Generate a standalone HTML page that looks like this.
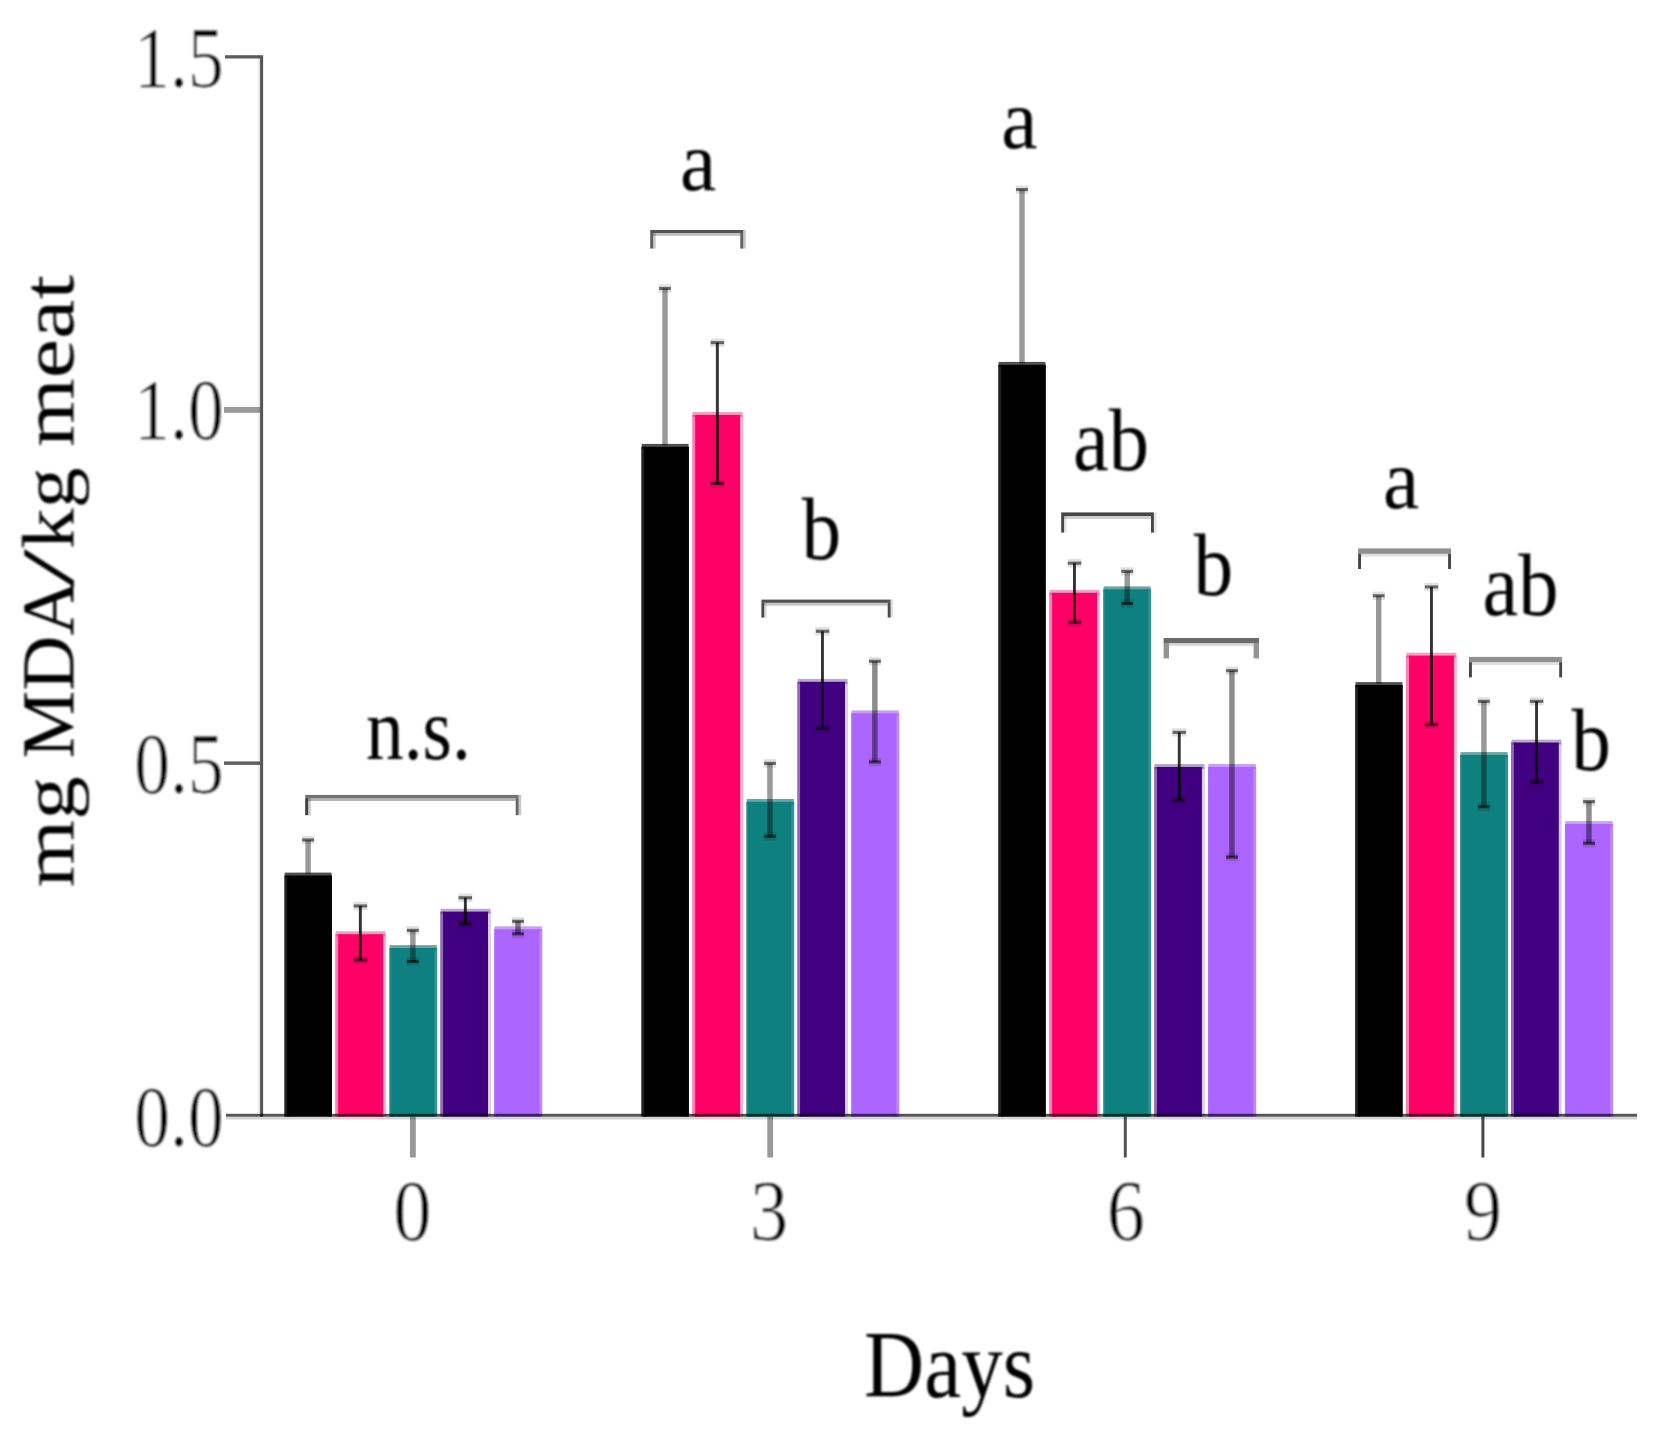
<!DOCTYPE html>
<html lang="en"><head><meta charset="utf-8"><title>TBARS chart</title>
<style>html,body{margin:0;padding:0;background:#fff}body{width:1661px;height:1445px;overflow:hidden}svg{display:block}text{font-family:"Liberation Serif",serif;fill:#000}.thin{stroke:#fff;stroke-width:0.6px;vector-effect:non-scaling-stroke}</style>
</head><body>
<svg width="1661" height="1445" viewBox="0 0 1661 1445">
<defs><filter id="soft" x="-5%" y="-5%" width="110%" height="110%"><feGaussianBlur stdDeviation="0.80"/></filter><filter id="soft2" x="-2%" y="-2%" width="104%" height="104%"><feGaussianBlur stdDeviation="0.5"/></filter></defs>
<rect x="0.0" y="0.0" width="1661.0" height="1445.0" fill="#fff"/>
<g id="chart" filter="url(#soft2)">
<g id="bars">
<rect x="284.3" y="875.5" width="4.9" height="241.1" fill="#000000" opacity="0.87"/>
<rect x="328.5" y="875.5" width="3.5" height="241.1" fill="#000000" opacity="0.96"/>
<rect x="284.7" y="872.6" width="46.9" height="5.0" fill="#000000" opacity="0.69"/>
<rect x="287.2" y="875.5" width="43.3" height="241.1" fill="#000000"/>
<rect x="335.2" y="934.2" width="5.0" height="182.4" fill="#FF0066" opacity="0.50"/>
<rect x="381.1" y="934.2" width="4.9" height="182.4" fill="#FF0066" opacity="0.30"/>
<rect x="335.6" y="931.3" width="50.0" height="5.0" fill="#FF0066" opacity="0.40"/>
<rect x="338.2" y="934.2" width="44.9" height="182.4" fill="#FF0066"/>
<rect x="389.3" y="948.0" width="4.0" height="168.6" fill="#11807F" opacity="0.92"/>
<rect x="432.3" y="948.0" width="4.9" height="168.6" fill="#11807F" opacity="0.86"/>
<rect x="389.7" y="945.1" width="47.1" height="5.0" fill="#11807F" opacity="0.68"/>
<rect x="391.3" y="948.0" width="43.0" height="168.6" fill="#11807F"/>
<rect x="440.2" y="911.6" width="4.9" height="205.0" fill="#40007F" opacity="0.58"/>
<rect x="486.0" y="911.6" width="4.9" height="205.0" fill="#40007F" opacity="0.20"/>
<rect x="440.6" y="908.7" width="49.9" height="5.0" fill="#40007F" opacity="0.35"/>
<rect x="443.1" y="911.6" width="44.9" height="205.0" fill="#40007F"/>
<rect x="494.1" y="929.2" width="3.5" height="187.4" fill="#AC66FF" opacity="0.95"/>
<rect x="537.4" y="929.2" width="4.9" height="187.4" fill="#AC66FF" opacity="0.78"/>
<rect x="494.5" y="926.3" width="47.4" height="5.0" fill="#AC66FF" opacity="0.64"/>
<rect x="495.6" y="929.2" width="43.8" height="187.4" fill="#AC66FF"/>
<rect x="641.3" y="446.8" width="4.9" height="669.8" fill="#000000" opacity="0.87"/>
<rect x="685.5" y="446.8" width="3.5" height="669.8" fill="#000000" opacity="0.96"/>
<rect x="641.7" y="443.9" width="46.9" height="5.0" fill="#000000" opacity="0.69"/>
<rect x="644.2" y="446.8" width="43.3" height="669.8" fill="#000000"/>
<rect x="692.2" y="414.9" width="5.0" height="701.7" fill="#FF0066" opacity="0.50"/>
<rect x="738.1" y="414.9" width="4.9" height="701.7" fill="#FF0066" opacity="0.30"/>
<rect x="692.6" y="412.0" width="50.0" height="5.0" fill="#FF0066" opacity="0.40"/>
<rect x="695.2" y="414.9" width="44.9" height="701.7" fill="#FF0066"/>
<rect x="746.3" y="801.9" width="4.0" height="314.7" fill="#11807F" opacity="0.92"/>
<rect x="789.3" y="801.9" width="4.9" height="314.7" fill="#11807F" opacity="0.86"/>
<rect x="746.7" y="799.0" width="47.1" height="5.0" fill="#11807F" opacity="0.68"/>
<rect x="748.3" y="801.9" width="43.0" height="314.7" fill="#11807F"/>
<rect x="797.2" y="681.8" width="4.9" height="434.8" fill="#40007F" opacity="0.58"/>
<rect x="843.0" y="681.8" width="4.9" height="434.8" fill="#40007F" opacity="0.20"/>
<rect x="797.6" y="678.9" width="49.9" height="5.0" fill="#40007F" opacity="0.35"/>
<rect x="800.1" y="681.8" width="44.9" height="434.8" fill="#40007F"/>
<rect x="851.1" y="713.3" width="3.5" height="403.3" fill="#AC66FF" opacity="0.95"/>
<rect x="894.4" y="713.3" width="4.9" height="403.3" fill="#AC66FF" opacity="0.78"/>
<rect x="851.5" y="710.4" width="47.4" height="5.0" fill="#AC66FF" opacity="0.64"/>
<rect x="852.6" y="713.3" width="43.8" height="403.3" fill="#AC66FF"/>
<rect x="998.2" y="364.8" width="4.9" height="751.8" fill="#000000" opacity="0.87"/>
<rect x="1042.4" y="364.8" width="3.5" height="751.8" fill="#000000" opacity="0.96"/>
<rect x="998.6" y="361.9" width="46.9" height="5.0" fill="#000000" opacity="0.69"/>
<rect x="1001.1" y="364.8" width="43.3" height="751.8" fill="#000000"/>
<rect x="1049.1" y="592.8" width="5.0" height="523.8" fill="#FF0066" opacity="0.50"/>
<rect x="1095.0" y="592.8" width="4.9" height="523.8" fill="#FF0066" opacity="0.30"/>
<rect x="1049.5" y="589.9" width="50.0" height="5.0" fill="#FF0066" opacity="0.40"/>
<rect x="1052.1" y="592.8" width="44.9" height="523.8" fill="#FF0066"/>
<rect x="1103.2" y="589.3" width="4.0" height="527.3" fill="#11807F" opacity="0.92"/>
<rect x="1146.2" y="589.3" width="4.9" height="527.3" fill="#11807F" opacity="0.86"/>
<rect x="1103.6" y="586.4" width="47.1" height="5.0" fill="#11807F" opacity="0.68"/>
<rect x="1105.2" y="589.3" width="43.0" height="527.3" fill="#11807F"/>
<rect x="1154.1" y="766.9" width="4.9" height="349.7" fill="#40007F" opacity="0.58"/>
<rect x="1199.9" y="766.9" width="4.9" height="349.7" fill="#40007F" opacity="0.20"/>
<rect x="1154.5" y="764.0" width="49.9" height="5.0" fill="#40007F" opacity="0.35"/>
<rect x="1157.0" y="766.9" width="44.9" height="349.7" fill="#40007F"/>
<rect x="1208.0" y="766.9" width="3.5" height="349.7" fill="#AC66FF" opacity="0.95"/>
<rect x="1251.3" y="766.9" width="4.9" height="349.7" fill="#AC66FF" opacity="0.78"/>
<rect x="1208.4" y="764.0" width="47.4" height="5.0" fill="#AC66FF" opacity="0.64"/>
<rect x="1209.5" y="766.9" width="43.8" height="349.7" fill="#AC66FF"/>
<rect x="1355.1" y="685.0" width="4.9" height="431.6" fill="#000000" opacity="0.87"/>
<rect x="1399.3" y="685.0" width="3.5" height="431.6" fill="#000000" opacity="0.96"/>
<rect x="1355.5" y="682.1" width="46.9" height="5.0" fill="#000000" opacity="0.69"/>
<rect x="1358.0" y="685.0" width="43.3" height="431.6" fill="#000000"/>
<rect x="1406.0" y="655.6" width="5.0" height="461.0" fill="#FF0066" opacity="0.50"/>
<rect x="1451.9" y="655.6" width="4.9" height="461.0" fill="#FF0066" opacity="0.30"/>
<rect x="1406.4" y="652.7" width="50.0" height="5.0" fill="#FF0066" opacity="0.40"/>
<rect x="1409.0" y="655.6" width="44.9" height="461.0" fill="#FF0066"/>
<rect x="1460.1" y="755.0" width="4.0" height="361.6" fill="#11807F" opacity="0.92"/>
<rect x="1503.1" y="755.0" width="4.9" height="361.6" fill="#11807F" opacity="0.86"/>
<rect x="1460.5" y="752.1" width="47.1" height="5.0" fill="#11807F" opacity="0.68"/>
<rect x="1462.1" y="755.0" width="43.0" height="361.6" fill="#11807F"/>
<rect x="1511.0" y="742.5" width="4.9" height="374.1" fill="#40007F" opacity="0.58"/>
<rect x="1556.8" y="742.5" width="4.9" height="374.1" fill="#40007F" opacity="0.20"/>
<rect x="1511.4" y="739.6" width="49.9" height="5.0" fill="#40007F" opacity="0.35"/>
<rect x="1513.9" y="742.5" width="44.9" height="374.1" fill="#40007F"/>
<rect x="1564.9" y="824.0" width="3.5" height="292.6" fill="#AC66FF" opacity="0.95"/>
<rect x="1608.2" y="824.0" width="4.9" height="292.6" fill="#AC66FF" opacity="0.78"/>
<rect x="1565.3" y="821.1" width="47.4" height="5.0" fill="#AC66FF" opacity="0.64"/>
<rect x="1566.4" y="824.0" width="43.8" height="292.6" fill="#AC66FF"/>
</g>
<g id="axes" fill="#000">
<rect x="226" y="1113.8" width="1411" height="2.9" opacity="0.67"/>
<rect x="226" y="1116.7" width="1411" height="2.8" opacity="0.17"/>
<rect x="260.1" y="55.2" width="3.0" height="1061.5" opacity="0.67"/>
<rect x="258.2" y="55.2" width="1.9" height="1058.6" opacity="0.10"/>
<rect x="225" y="55.2" width="35.1" height="3.3" opacity="0.64"/>
<rect x="224" y="407" width="36.1" height="5.8" opacity="0.40"/>
<rect x="224" y="761.4" width="36.1" height="3.5" opacity="0.62"/>
<rect x="410" y="1116.7" width="5.8" height="40.8" opacity="0.40"/>
<rect x="767.3" y="1116.7" width="5.8" height="40.8" opacity="0.40"/>
<rect x="1123.8" y="1116.7" width="3" height="40.8" opacity="0.68"/>
<rect x="1481.4" y="1116.7" width="3" height="40.8" opacity="0.72"/>
</g>
<g id="errors" fill="#000">
<rect x="305.4" y="840.0" width="5.4" height="34.2" opacity="0.40"/>
<rect x="302.2" y="838.4" width="11.8" height="3.1" opacity="0.55"/>
<rect x="301.8" y="835.8" width="12.6" height="8.4" opacity="0.12"/>
<rect x="358.9" y="906.0" width="2.9" height="54.0" opacity="0.80"/>
<rect x="353.7" y="904.4" width="13.4" height="3.1" opacity="0.55"/>
<rect x="353.3" y="901.8" width="14.2" height="8.4" opacity="0.12"/>
<rect x="353.7" y="958.4" width="13.4" height="3.1" opacity="0.55"/>
<rect x="353.3" y="955.8" width="14.2" height="8.4" opacity="0.12"/>
<rect x="410.1" y="930.4" width="5.5" height="31.2" opacity="0.40"/>
<rect x="406.9" y="928.8" width="11.8" height="3.1" opacity="0.55"/>
<rect x="406.5" y="926.2" width="12.6" height="8.4" opacity="0.12"/>
<rect x="406.9" y="960.0" width="11.8" height="3.1" opacity="0.55"/>
<rect x="406.5" y="957.4" width="12.6" height="8.4" opacity="0.12"/>
<rect x="463.9" y="897.8" width="2.9" height="26.1" opacity="0.80"/>
<rect x="458.6" y="896.2" width="13.4" height="3.1" opacity="0.55"/>
<rect x="458.2" y="893.6" width="14.2" height="8.4" opacity="0.12"/>
<rect x="458.6" y="922.3" width="13.4" height="3.1" opacity="0.55"/>
<rect x="458.2" y="919.7" width="14.2" height="8.4" opacity="0.12"/>
<rect x="515.2" y="921.3" width="5.5" height="12.6" opacity="0.45"/>
<rect x="512.1" y="919.7" width="11.8" height="3.1" opacity="0.55"/>
<rect x="511.7" y="917.1" width="12.6" height="8.4" opacity="0.12"/>
<rect x="512.1" y="932.3" width="11.8" height="3.1" opacity="0.55"/>
<rect x="511.7" y="929.7" width="12.6" height="8.4" opacity="0.12"/>
<rect x="662.3" y="288.5" width="5.4" height="157.0" opacity="0.40"/>
<rect x="659.1" y="286.9" width="11.8" height="3.1" opacity="0.55"/>
<rect x="658.7" y="284.3" width="12.6" height="8.4" opacity="0.12"/>
<rect x="715.9" y="342.7" width="2.9" height="140.8" opacity="0.80"/>
<rect x="710.7" y="341.1" width="13.4" height="3.1" opacity="0.55"/>
<rect x="710.3" y="338.5" width="14.2" height="8.4" opacity="0.12"/>
<rect x="710.7" y="481.9" width="13.4" height="3.1" opacity="0.55"/>
<rect x="710.3" y="479.3" width="14.2" height="8.4" opacity="0.12"/>
<rect x="767.2" y="763.4" width="5.5" height="73.1" opacity="0.40"/>
<rect x="764.1" y="761.8" width="11.8" height="3.1" opacity="0.55"/>
<rect x="763.7" y="759.2" width="12.6" height="8.4" opacity="0.12"/>
<rect x="764.1" y="834.9" width="11.8" height="3.1" opacity="0.55"/>
<rect x="763.7" y="832.3" width="12.6" height="8.4" opacity="0.12"/>
<rect x="821.0" y="631.3" width="2.9" height="97.1" opacity="0.80"/>
<rect x="815.8" y="629.7" width="13.4" height="3.1" opacity="0.55"/>
<rect x="815.4" y="627.1" width="14.2" height="8.4" opacity="0.12"/>
<rect x="815.8" y="726.8" width="13.4" height="3.1" opacity="0.55"/>
<rect x="815.4" y="724.2" width="14.2" height="8.4" opacity="0.12"/>
<rect x="872.1" y="661.3" width="5.5" height="100.7" opacity="0.45"/>
<rect x="869.0" y="659.7" width="11.8" height="3.1" opacity="0.55"/>
<rect x="868.6" y="657.1" width="12.6" height="8.4" opacity="0.12"/>
<rect x="869.0" y="760.4" width="11.8" height="3.1" opacity="0.55"/>
<rect x="868.6" y="757.8" width="12.6" height="8.4" opacity="0.12"/>
<rect x="1019.3" y="189.6" width="5.4" height="173.9" opacity="0.40"/>
<rect x="1016.1" y="188.0" width="11.8" height="3.1" opacity="0.55"/>
<rect x="1015.7" y="185.4" width="12.6" height="8.4" opacity="0.12"/>
<rect x="1073.0" y="563.2" width="2.9" height="59.2" opacity="0.80"/>
<rect x="1067.8" y="561.6" width="13.4" height="3.1" opacity="0.55"/>
<rect x="1067.4" y="559.0" width="14.2" height="8.4" opacity="0.12"/>
<rect x="1067.8" y="620.8" width="13.4" height="3.1" opacity="0.55"/>
<rect x="1067.4" y="618.2" width="14.2" height="8.4" opacity="0.12"/>
<rect x="1124.5" y="571.4" width="5.5" height="32.2" opacity="0.40"/>
<rect x="1121.3" y="569.8" width="11.8" height="3.1" opacity="0.55"/>
<rect x="1120.9" y="567.2" width="12.6" height="8.4" opacity="0.12"/>
<rect x="1121.3" y="602.0" width="11.8" height="3.1" opacity="0.55"/>
<rect x="1120.9" y="599.4" width="12.6" height="8.4" opacity="0.12"/>
<rect x="1177.8" y="732.4" width="2.9" height="67.6" opacity="0.80"/>
<rect x="1172.5" y="730.8" width="13.4" height="3.1" opacity="0.55"/>
<rect x="1172.1" y="728.2" width="14.2" height="8.4" opacity="0.12"/>
<rect x="1172.5" y="798.4" width="13.4" height="3.1" opacity="0.55"/>
<rect x="1172.1" y="795.8" width="14.2" height="8.4" opacity="0.12"/>
<rect x="1229.2" y="670.7" width="5.5" height="186.5" opacity="0.45"/>
<rect x="1226.1" y="669.1" width="11.8" height="3.1" opacity="0.55"/>
<rect x="1225.7" y="666.5" width="12.6" height="8.4" opacity="0.12"/>
<rect x="1226.1" y="855.6" width="11.8" height="3.1" opacity="0.55"/>
<rect x="1225.7" y="853.0" width="12.6" height="8.4" opacity="0.12"/>
<rect x="1376.0" y="595.8" width="5.4" height="87.9" opacity="0.40"/>
<rect x="1372.8" y="594.2" width="11.8" height="3.1" opacity="0.55"/>
<rect x="1372.4" y="591.6" width="12.6" height="8.4" opacity="0.12"/>
<rect x="1430.0" y="587.0" width="2.9" height="137.6" opacity="0.80"/>
<rect x="1424.8" y="585.4" width="13.4" height="3.1" opacity="0.55"/>
<rect x="1424.4" y="582.8" width="14.2" height="8.4" opacity="0.12"/>
<rect x="1424.8" y="723.0" width="13.4" height="3.1" opacity="0.55"/>
<rect x="1424.4" y="720.4" width="14.2" height="8.4" opacity="0.12"/>
<rect x="1481.2" y="701.4" width="5.5" height="105.4" opacity="0.40"/>
<rect x="1478.0" y="699.8" width="11.8" height="3.1" opacity="0.55"/>
<rect x="1477.6" y="697.2" width="12.6" height="8.4" opacity="0.12"/>
<rect x="1478.0" y="805.2" width="11.8" height="3.1" opacity="0.55"/>
<rect x="1477.6" y="802.6" width="12.6" height="8.4" opacity="0.12"/>
<rect x="1535.1" y="701.4" width="2.9" height="80.8" opacity="0.80"/>
<rect x="1529.9" y="699.8" width="13.4" height="3.1" opacity="0.55"/>
<rect x="1529.5" y="697.2" width="14.2" height="8.4" opacity="0.12"/>
<rect x="1529.9" y="780.6" width="13.4" height="3.1" opacity="0.55"/>
<rect x="1529.5" y="778.0" width="14.2" height="8.4" opacity="0.12"/>
<rect x="1586.2" y="801.7" width="5.5" height="41.6" opacity="0.45"/>
<rect x="1583.1" y="800.1" width="11.8" height="3.1" opacity="0.55"/>
<rect x="1582.7" y="797.5" width="12.6" height="8.4" opacity="0.12"/>
<rect x="1583.1" y="841.7" width="11.8" height="3.1" opacity="0.55"/>
<rect x="1582.7" y="839.1" width="12.6" height="8.4" opacity="0.12"/>
</g>
<g id="brackets" fill="#000">
<rect x="305.2" y="794.9" width="213.4" height="3.2" opacity="0.55"/>
<rect x="308.1" y="798.1" width="207.6" height="2.9" opacity="0.30"/>
<rect x="305.2" y="798.1" width="2.9" height="17.1" opacity="0.75"/>
<rect x="515.7" y="798.1" width="2.9" height="17.1" opacity="0.60"/>
<rect x="308.1" y="798.1" width="2.6" height="17.1" opacity="0.22"/>
<rect x="518.6" y="794.9" width="2.6" height="20.3" opacity="0.22"/>
<rect x="650.2" y="230.0" width="93.0" height="3.0" opacity="0.67"/>
<rect x="653.1" y="233.0" width="87.2" height="2.9" opacity="0.25"/>
<rect x="650.2" y="233.0" width="2.9" height="15.6" opacity="0.62"/>
<rect x="740.3" y="233.0" width="2.9" height="15.6" opacity="0.62"/>
<rect x="653.1" y="233.0" width="2.6" height="15.6" opacity="0.22"/>
<rect x="743.2" y="230.0" width="2.6" height="18.6" opacity="0.22"/>
<rect x="761.4" y="599.6" width="129.2" height="3.2" opacity="0.68"/>
<rect x="764.3" y="602.8" width="123.4" height="2.9" opacity="0.22"/>
<rect x="761.4" y="602.8" width="2.9" height="14.8" opacity="0.70"/>
<rect x="887.7" y="602.8" width="2.9" height="14.8" opacity="0.70"/>
<rect x="764.3" y="602.8" width="2.6" height="14.8" opacity="0.12"/>
<rect x="890.6" y="599.6" width="2.6" height="18.0" opacity="0.12"/>
<rect x="1061.2" y="512.4" width="92.7" height="3.6" opacity="0.72"/>
<rect x="1064.1" y="516.0" width="86.9" height="2.9" opacity="0.20"/>
<rect x="1061.2" y="516.0" width="2.9" height="16.6" opacity="0.72"/>
<rect x="1151.0" y="516.0" width="2.9" height="16.6" opacity="0.72"/>
<rect x="1064.1" y="516.0" width="2.6" height="16.6" opacity="0.10"/>
<rect x="1153.9" y="512.4" width="2.6" height="20.2" opacity="0.10"/>
<rect x="1163.6" y="638.0" width="95.4" height="5.2" opacity="0.58"/>
<rect x="1169.0" y="643.2" width="84.6" height="2.9" opacity="0.14"/>
<rect x="1163.6" y="643.2" width="5.4" height="15.2" opacity="0.42"/>
<rect x="1253.6" y="643.2" width="5.4" height="15.2" opacity="0.42"/>
<rect x="1358.1" y="548.4" width="92.9" height="5.4" opacity="0.44"/>
<rect x="1361.0" y="553.8" width="87.1" height="2.9" opacity="0.12"/>
<rect x="1358.1" y="553.8" width="2.9" height="15.2" opacity="0.73"/>
<rect x="1448.1" y="553.8" width="2.9" height="15.2" opacity="0.73"/>
<rect x="1469.0" y="656.9" width="93.1" height="5.3" opacity="0.44"/>
<rect x="1471.9" y="662.2" width="87.3" height="2.9" opacity="0.12"/>
<rect x="1469.0" y="662.2" width="2.9" height="15.2" opacity="0.73"/>
<rect x="1559.2" y="662.2" width="2.9" height="15.2" opacity="0.73"/>
</g>
</g>
<g id="labels" filter="url(#soft)">
<text transform="translate(366.0 758.6) scale(0.857 1)" font-size="88">n.s.</text>
<text transform="translate(680.0 190.4) scale(0.960 1)" font-size="85">a</text>
<text transform="translate(801.5 559.4) scale(0.900 1)" font-size="88">b</text>
<text transform="translate(1001.3 148.2) scale(0.960 1)" font-size="85">a</text>
<text transform="translate(1073.0 469.7) scale(0.915 1)" font-size="88">ab</text>
<text transform="translate(1193.6 594.7) scale(0.900 1)" font-size="88">b</text>
<text transform="translate(1383.0 508.2) scale(0.960 1)" font-size="85">a</text>
<text transform="translate(1482.4 615.0) scale(0.915 1)" font-size="88">ab</text>
<text transform="translate(1571.3 770.2) scale(0.900 1)" font-size="88">b</text>
<text transform="translate(134.3 87.2) scale(0.822 1)" font-size="87" class="thin">1.5</text>
<text transform="translate(134.3 439.2) scale(0.822 1)" font-size="87" class="thin">1.0</text>
<text transform="translate(134.3 792.8) scale(0.822 1)" font-size="87" class="thin">0.5</text>
<text transform="translate(134.3 1146.2) scale(0.822 1)" font-size="87" class="thin">0.0</text>
<text transform="translate(412.5 1240.4) scale(0.880 1)" font-size="87" class="thin" text-anchor="middle">0</text>
<text transform="translate(769.2 1240.4) scale(0.880 1)" font-size="87" class="thin" text-anchor="middle">3</text>
<text transform="translate(1126.0 1240.4) scale(0.880 1)" font-size="87" class="thin" text-anchor="middle">6</text>
<text transform="translate(1482.8 1240.4) scale(0.880 1)" font-size="87" class="thin" text-anchor="middle">9</text>
<text transform="translate(864 1396.5) scale(0.868 1)" font-size="96">Days</text>
<text transform="translate(73.4 887) rotate(-90)" font-size="74"><tspan x="-0.5" textLength="133" lengthAdjust="spacingAndGlyphs">mg </tspan><tspan x="128.5" textLength="178" lengthAdjust="spacingAndGlyphs">MDA</tspan><tspan x="300" textLength="38" lengthAdjust="spacingAndGlyphs">/</tspan><tspan x="338" textLength="102" lengthAdjust="spacingAndGlyphs">kg </tspan><tspan x="440" textLength="172" lengthAdjust="spacingAndGlyphs">meat</tspan></text>
</g>
</svg>
</body></html>
